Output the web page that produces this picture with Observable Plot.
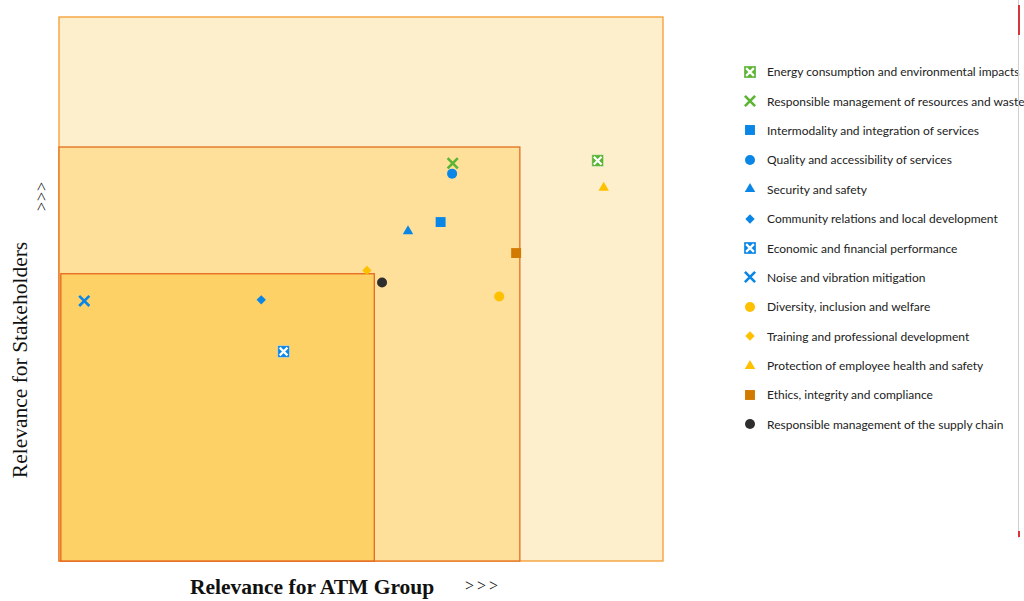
<!DOCTYPE html>
<html>
<head>
<meta charset="utf-8">
<script src="https://cdn.jsdelivr.net/npm/d3@7"></script>
<script src="https://cdn.jsdelivr.net/npm/@observablehq/plot@0.6"></script>
<style>
  html, body { margin: 0; padding: 0; background: #fff; }
  #wrap { position: relative; width: 1024px; height: 601px; overflow: hidden; }
  #chart { position: absolute; left: 0; top: 0; }
  .xlab { position: absolute; left: 190px; top: 575px; font: bold 21.5px "Liberation Serif", "Times New Roman", serif; color: #111; white-space: nowrap; }
  .xarr { position: absolute; left: 465px; top: 577px; font: 16px "Liberation Serif", serif; letter-spacing: 3px; color: #111; }
  .ylab { position: absolute; left: 20px; top: 360px; transform: translate(-50%, -50%) rotate(-90deg); font: 21.5px "Liberation Serif", "Times New Roman", serif; color: #111; white-space: nowrap; }
  .yarr { position: absolute; left: 42px; top: 196px; transform: translate(-50%, -50%) rotate(-90deg); font: 16px "Liberation Serif", serif; letter-spacing: 1px; color: #111; white-space: nowrap; }
  #legend { position: absolute; left: 741px; top: 57px; font: 12px Lato, "Open Sans", sans-serif; color: #222; }
  #legend .row { display: flex; align-items: center; height: 29.4px; white-space: nowrap; }
  #legend svg { width: 18px; height: 18px; margin-right: 8px; flex: none; }
  .vline { position: absolute; left: 1018px; top: 0; width: 1px; height: 538px; background: #cfcfcf; }
  .red1 { position: absolute; left: 1018px; top: 5px; width: 2px; height: 30px; background: #d9343a; }
  .red2 { position: absolute; left: 1018px; top: 531px; width: 2px; height: 6px; background: #d9343a; }
</style>
</head>
<body>
<div id="wrap">
  <div id="chart"></div>
  <div class="xlab">Relevance for ATM Group</div>
  <div class="xarr">&gt;&gt;&gt;</div>
  <div class="ylab">Relevance for Stakeholders</div>
  <div class="yarr">&gt;&gt;&gt;</div>
  <div id="legend"></div>
  <div class="vline"></div>
  <div class="red1"></div>
  <div class="red2"></div>
</div>
<script>
// ---- Data ----
const topics = [
  "Energy consumption and environmental impacts",
  "Responsible management of resources and waste",
  "Intermodality and integration of services",
  "Quality and accessibility of services",
  "Security and safety",
  "Community relations and local development",
  "Economic and financial performance",
  "Noise and vibration mitigation",
  "Diversity, inclusion and welfare",
  "Training and professional development",
  "Protection of employee health and safety",
  "Ethics, integrity and compliance",
  "Responsible management of the supply chain"
];
const atmRelevance = [89.1, 65.1, 63.1, 65.0, 57.7, 33.4, 37.1, 4.1, 72.8, 50.9, 90.1, 75.6, 53.4];
const stakeholderRelevance = [73.7, 73.2, 62.4, 71.3, 60.7, 48.1, 38.6, 47.9, 48.7, 53.5, 68.7, 56.7, 51.3];
const shapes = ["boxtimes", "times", "square", "circle", "triangle", "diamond", "boxtimes", "times", "circle", "diamond", "triangle", "square", "circle"];
const colors = ["#5BB432", "#5BB432", "#0A86E6", "#0A86E6", "#0A86E6", "#0A86E6", "#0A86E6", "#0A86E6", "#FFC000", "#FFC000", "#FFC000", "#D27A00", "#2E2E2E"];

// Priority zones (x1, x2 on ATM axis; y1, y2 on stakeholder axis)
const zoneX1 = [0, 0, 0.3];
const zoneX2 = [100, 76.3, 52.2];
const zoneY1 = [0, 0, 0];
const zoneY2 = [100, 76.1, 52.8];
const zoneFill = ["#FDEFCB", "#FEE09B", "#FED167"];
const zoneStroke = ["#F59C2E", "#E2701E", "#E5661C"];

// ---- Build ----
const zones = zoneX1.map((x1, i) => ({x1, x2: zoneX2[i], y1: zoneY1[i], y2: zoneY2[i], fill: zoneFill[i], stroke: zoneStroke[i]}));
const pts = topics.map((t, i) => ({topic: t, atm: atmRelevance[i], stake: stakeholderRelevance[i], shape: shapes[i], color: colors[i]}));

const dotMarks = [];
for (const p of pts) {
  const base = {x: "atm", y: "stake"};
  if (p.shape === "circle") dotMarks.push(Plot.dot([p], {...base, symbol: "circle", r: 5, fill: p.color}));
  else if (p.shape === "square") dotMarks.push(Plot.dot([p], {...base, symbol: "square", r: 5.6, fill: p.color}));
  else if (p.shape === "triangle") dotMarks.push(Plot.dot([p], {...base, symbol: "triangle", r: 3.9, fill: p.color}));
  else if (p.shape === "diamond") dotMarks.push(Plot.dot([p], {...base, symbol: "diamond2", r: 4.2, fill: p.color}));
  else if (p.shape === "times") dotMarks.push(Plot.dot([p], {...base, symbol: "times", r: 4.7, stroke: p.color, strokeWidth: 2.6}));
  else if (p.shape === "boxtimes") {
    dotMarks.push(Plot.dot([p], {...base, symbol: "square", r: 6.6, fill: p.color, stroke: "#ffffff", strokeOpacity: 0.35, strokeWidth: 1}));
    dotMarks.push(Plot.dot([p], {...base, symbol: "times", r: 3.6, stroke: "#ffffff", strokeWidth: 2.2}));
  }
}

const chart = Plot.plot({
  width: 680,
  height: 601,
  marginTop: 17,
  marginBottom: 40,
  marginLeft: 59,
  marginRight: 17,
  x: {domain: [0, 100], axis: null},
  y: {domain: [0, 100], axis: null},
  marks: [
    ...zones.map(z => Plot.rect([z], {x1: "x1", x2: "x2", y1: "y1", y2: "y2", fill: z.fill, stroke: z.stroke, strokeWidth: 1.3})),
    ...dotMarks
  ]
});
document.getElementById("chart").appendChild(chart);

// ---- Legend ----
const legend = d3.select("#legend");
pts.forEach(p => {
  const row = legend.append("div").attr("class", "row");
  const svg = row.append("svg").attr("viewBox", "-9 -9 18 18");
  const sym = (type, r) => d3.symbol(type, Math.PI * r * r)();
  if (p.shape === "circle") svg.append("path").attr("d", sym(d3.symbolCircle, 5)).attr("fill", p.color);
  else if (p.shape === "square") svg.append("path").attr("d", sym(d3.symbolSquare, 5.6)).attr("fill", p.color);
  else if (p.shape === "triangle") svg.append("path").attr("d", sym(d3.symbolTriangle, 3.9)).attr("fill", p.color);
  else if (p.shape === "diamond") svg.append("path").attr("d", sym(d3.symbolDiamond2, 4.2)).attr("fill", p.color);
  else if (p.shape === "times") svg.append("path").attr("d", sym(d3.symbolTimes, 4.7)).attr("fill", "none").attr("stroke", p.color).attr("stroke-width", 2.6);
  else {
    svg.append("path").attr("d", sym(d3.symbolSquare, 6.6)).attr("fill", p.color);
    svg.append("path").attr("d", sym(d3.symbolTimes, 3.6)).attr("fill", "none").attr("stroke", "#fff").attr("stroke-width", 2.2);
  }
  row.append("span").text(p.topic);
});
</script>
</body>
</html>
